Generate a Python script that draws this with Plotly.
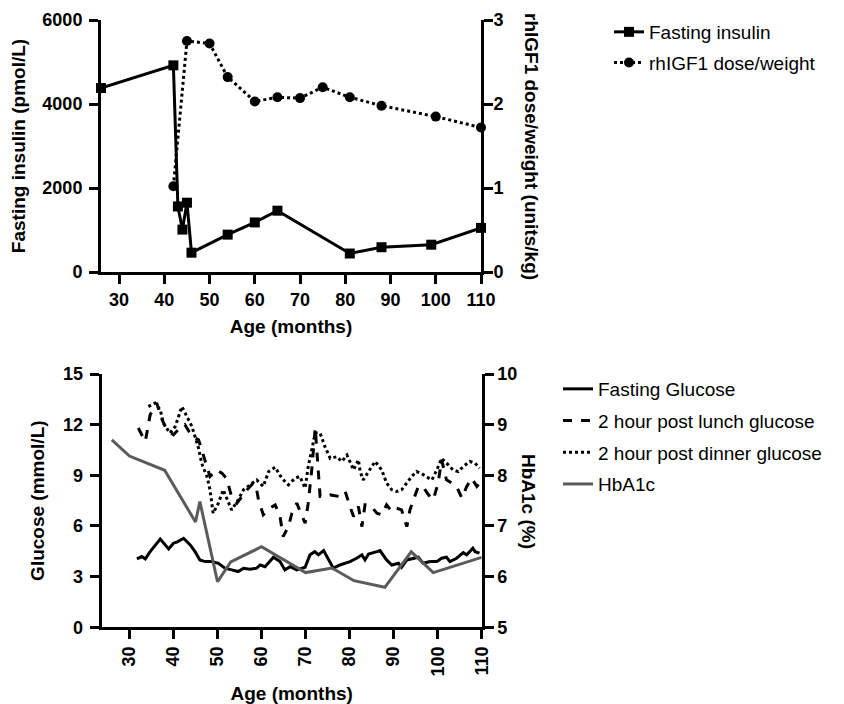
import plotly.graph_objects as go

# ---------------- data ----------------
ins_age = [26, 42, 43, 44, 45, 46, 54, 60, 65, 81, 88, 99, 110]
ins_val = [4380, 4920, 1560, 1010, 1650, 460, 890, 1180, 1460, 440, 590, 650, 1050]

dose_age = [42, 45, 50, 54, 60, 65, 70, 75, 81, 88, 100, 110]
dose_val = [1.02, 2.75, 2.72, 2.32, 2.03, 2.08, 2.07, 2.2, 2.08, 1.98, 1.85, 1.72]

fg_age = [31.7, 32.8, 33.6, 34.7, 37.0, 38.9, 40.0, 40.9, 42.3, 43.8, 44.9, 46.0, 47.2, 48.7,
          50.2, 51.7, 53.2, 54.7, 55.9, 57.4, 58.9, 59.7, 60.8, 62.7, 64.2, 65.3, 66.5, 68.0,
          69.9, 71.0, 72.1, 72.9, 74.1, 75.2, 76.3, 77.8, 80.1, 81.6, 82.8, 83.5, 84.3, 86.2,
          86.9, 88.4, 89.6, 91.1, 91.8, 93.0, 94.5, 95.6, 96.7, 98.3, 99.8, 100.9, 102.0, 102.8,
          104.3, 105.8, 106.6, 108.0, 108.5, 109.5]
fg_val = [4.05, 4.19, 4.05, 4.48, 5.22, 4.64, 4.98, 5.06, 5.27, 4.88, 4.48, 3.99, 3.89, 3.89,
          3.79, 3.50, 3.40, 3.30, 3.50, 3.44, 3.50, 3.69, 3.59, 4.15, 3.89, 3.40, 3.59, 3.40,
          3.56, 4.29, 4.48, 4.29, 4.54, 3.99, 3.50, 3.69, 3.89, 4.09, 4.29, 3.99, 4.34, 4.48,
          4.54, 3.99, 3.69, 3.79, 3.56, 3.99, 4.09, 4.15, 3.79, 3.89, 3.89, 4.09, 4.15, 3.89,
          4.09, 4.42, 4.29, 4.68, 4.48, 4.39]

lu_age = [32.0, 33.6, 34.7, 36.2, 37.4, 38.5, 40.0, 41.1, 42.6, 44.2,
          45.7, 47.2, 48.3, 49.8, 51.0, 52.1, 53.2, 54.4, 55.5, 56.7,
          58.1, 58.9, 59.3, 60.4, 61.9, 63.1, 64.2, 64.9, 66.1, 66.9,
          68.0, 69.1, 69.9, 70.6, 71.4, 72.2, 72.9, 73.3, 74.4, 75.6,
          77.8, 79.0, 80.1, 80.9, 82.0, 82.8, 83.5, 84.6, 86.2, 87.3,
          88.4, 89.6, 90.7, 91.8, 93.0, 93.7, 94.5, 95.6, 96.7, 97.9,
          99.0, 100.1, 100.9, 102.0, 103.2, 104.3, 105.5, 106.6, 107.7, 108.9,
          109.5]
lu_val = [11.8, 11.0, 12.58, 13.28, 12.29, 11.7, 11.4, 11.7, 12.0, 11.3,
          11.1, 9.9, 8.93, 9.32, 9.13, 8.8, 7.74, 7.35, 7.74, 8.14,
          8.54, 8.14, 7.55, 6.66, 7.05, 7.25, 6.56, 5.37, 5.96, 6.76,
          7.35, 6.66, 6.16, 7.35, 9.32, 11.8, 8.93, 7.74, 7.74, 7.84,
          7.74, 8.04, 7.15, 6.56, 7.15, 5.96, 7.25, 7.25, 6.76, 6.66,
          7.25, 6.85, 7.05, 6.95, 5.96, 6.95, 7.55, 8.34, 8.3, 7.85,
          7.55, 8.54, 9.92, 8.73, 8.54, 8.34, 7.65, 8.34, 8.83, 8.34,
          8.54]

di_age = [34.3, 35.8, 37.0, 37.7, 39.2, 40.4, 41.9, 43.0, 44.2, 45.7,
          46.4, 47.6, 48.3, 49.0, 50.2, 51.3, 52.5, 53.2, 54.7, 55.9,
          57.4, 58.9, 60.4, 61.6, 63.1, 64.6, 66.1, 67.6, 68.7, 69.9,
          70.6, 71.4, 72.2, 73.3, 74.4, 75.6, 77.1, 78.2, 79.4, 80.9,
          82.0, 82.4, 83.1, 84.3, 85.8, 87.3, 88.4, 89.6, 90.7, 91.8,
          93.0, 94.1, 95.2, 96.4, 97.5, 98.7, 99.8, 100.9, 102.4, 103.5,
          104.7, 105.8, 107.3, 108.5, 109.5]
di_val = [13.07, 13.28, 12.88, 12.09, 11.5, 11.89, 13.07, 12.48, 11.89, 10.6,
          9.72, 8.93, 8.14, 6.76, 7.35, 8.14, 7.35, 6.95, 7.55, 8.14,
          8.44, 8.73, 8.34, 9.22, 9.48, 8.83, 8.44, 8.83, 8.93, 8.24,
          9.52, 10.6, 11.5, 11.5, 10.7, 10.0, 10.1, 9.82, 10.2, 9.32,
          9.92, 9.22, 8.73, 9.22, 9.82, 9.32, 8.54, 8.14, 8.04, 8.14,
          8.54, 8.93, 9.22, 9.1, 8.9, 8.73, 9.32, 10.0, 9.62, 9.32,
          9.22, 9.52, 9.82, 9.72, 9.42]

hb_age = [26, 30, 38, 45, 46, 50, 53, 60, 70, 76, 81, 88, 94, 99, 110]
hb_val = [8.7, 8.38, 8.1, 7.08, 7.48, 5.9, 6.29, 6.59, 6.08, 6.17, 5.92, 5.79, 6.49, 6.08, 6.38]

top_xticks = [30, 40, 50, 60, 70, 80, 90, 100, 110]
ins_ticks = [0, 2000, 4000, 6000]
dose_ticks = [0, 1, 2, 3]
glu_ticks = [0, 3, 6, 9, 12, 15]
hb_ticks = [5, 6, 7, 8, 9, 10]

# ---------------- figure ----------------
FONT = "Liberation Sans, Arial, sans-serif"
OFF = 8                      # page body margin
W, H = 844 - OFF, 704 - OFF


def fx(px):
    return (px - OFF) / W


def fy(py):
    return 1 - (py - OFF) / H


fig = go.Figure()
fig.add_trace(go.Scatter(x=ins_age, y=ins_val, name="Fasting insulin", mode="lines+markers",
                         line=dict(color="black", width=3),
                         marker=dict(symbol="square", size=10, color="black"),
                         xaxis="x", yaxis="y", legend="legend", legendgroup="a", cliponaxis=False))
fig.add_trace(go.Scatter(x=dose_age, y=dose_val, name="rhIGF1 dose/weight", mode="lines+markers",
                         line=dict(color="black", width=3, dash="dot"),
                         marker=dict(symbol="circle", size=10, color="black"),
                         xaxis="x", yaxis="y2", legend="legend", legendgroup="b", cliponaxis=False))

fig.add_trace(go.Scatter(x=fg_age, y=fg_val, name="Fasting Glucose", mode="lines",
                         line=dict(color="black", width=3),
                         xaxis="x2", yaxis="y3", legend="legend2", legendgroup="c"))
fig.add_trace(go.Scatter(x=lu_age, y=lu_val, name="2 hour post lunch glucose", mode="lines",
                         line=dict(color="black", width=3, dash="dash"),
                         xaxis="x2", yaxis="y3", legend="legend2", legendgroup="d"))
fig.add_trace(go.Scatter(x=di_age, y=di_val, name="2 hour post dinner glucose", mode="lines",
                         line=dict(color="black", width=3, dash="dot"),
                         xaxis="x2", yaxis="y3", legend="legend2", legendgroup="e"))
fig.add_trace(go.Scatter(x=hb_age, y=hb_val, name="HbA1c", mode="lines",
                         line=dict(color="#5b5b5b", width=3),
                         xaxis="x2", yaxis="y4", legend="legend2", legendgroup="f"))

tickfont = dict(family=FONT, size=18, color="black", weight="bold")
titlefont = dict(family=FONT, size=19, color="black", weight="bold")
axis_common = dict(showline=True, linewidth=3, linecolor="black", ticks="outside",
                   ticklen=9, tickwidth=3, tickcolor="black", showgrid=False,
                   zeroline=False, tickfont=tickfont, fixedrange=True, automargin=False)

fig.update_layout(
    width=W, height=H, autosize=False,
    margin=dict(l=0, r=0, t=0, b=0, pad=0),
    paper_bgcolor="white", plot_bgcolor="white",
    showlegend=True,
    xaxis=dict(domain=[fx(101), fx(481)], range=[26, 110], anchor="y",
               tickvals=top_xticks,
               title=dict(text="Age (months)", font=titlefont, standoff=12), **axis_common),
    yaxis=dict(domain=[fy(272), fy(20)], range=[0, 6000], anchor="x",
               tickvals=ins_ticks, ticklabelstandoff=3,
               title=dict(text="Fasting insulin (pmol/L)", font=titlefont, standoff=14), **axis_common),
    yaxis2=dict(overlaying="y", side="right", anchor="x", range=[0, 3], tickvals=dose_ticks,
                ticklabelstandoff=-3, **axis_common),
    xaxis2=dict(domain=[fx(101.7), fx(481.7)], range=[23.7, 110], anchor="y3",
                tickvals=top_xticks, tickangle=-90,
                title=dict(text="Age (months)", font=titlefont, standoff=13), **axis_common),
    yaxis3=dict(domain=[fy(627.3), fy(374)], range=[0, 15], anchor="x2",
                tickvals=glu_ticks, ticklabelstandoff=3,
                title=dict(text="Glucose (mmol/L)", font=titlefont, standoff=14), **axis_common),
    yaxis4=dict(overlaying="y3", side="right", anchor="x2", range=[5, 10], tickvals=hb_ticks,
                **axis_common),
    legend=dict(x=fx(609), y=fy(13), xanchor="left", yanchor="top",
                font=dict(family=FONT, size=19, color="black"),
                itemwidth=30, traceorder="grouped", tracegroupgap=3,
                bgcolor="rgba(0,0,0,0)"),
    legend2=dict(x=fx(558), y=fy(370), xanchor="left", yanchor="top",
                 font=dict(family=FONT, size=19, color="black"),
                 itemwidth=30, traceorder="grouped", tracegroupgap=4,
                 bgcolor="rgba(0,0,0,0)"),
    annotations=[
        dict(text="rhIGF1 dose/weight (units/kg)", x=fx(532), y=fy(146),
             xref="paper", yref="paper", textangle=90, showarrow=False,
             font=titlefont, xanchor="center", yanchor="middle"),
        dict(text="HbA1c (%)", x=fx(529), y=fy(501),
             xref="paper", yref="paper", textangle=90, showarrow=False,
             font=titlefont, xanchor="center", yanchor="middle"),
    ],
)

fig.write_html("out.html")
